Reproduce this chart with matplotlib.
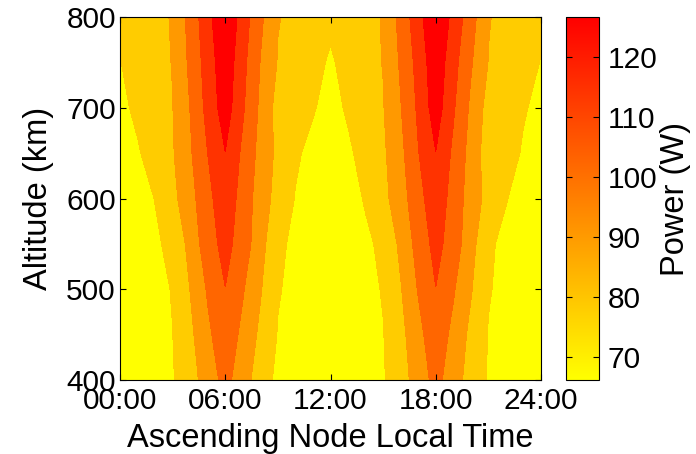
import numpy as np
import matplotlib
matplotlib.use("Agg")
import matplotlib.pyplot as plt
from matplotlib.colors import Normalize
from matplotlib.cm import ScalarMappable

plt.rcParams['font.family'] = ['Liberation Sans', 'DejaVu Sans']

# ascending node local time (h) and altitude (km) grid
hours = [0, 1, 2, 3, 4, 5, 6, 7, 8, 9, 10, 11, 12,
         13, 14, 15, 16, 17, 18, 19, 20, 21, 22, 23, 24]
altitudes = [400, 450, 500, 550, 600, 650, 700, 750, 800]

# power (W), one row per altitude
p400 = [67.0, 70.5, 74.0, 77.5, 85.4, 96.1, 106.4, 95.5, 84.5, 75.5, 72.5, 69.5, 66.2,
        69.9, 73.6, 77.3, 85.2, 95.8, 106.4, 95.9, 85.5, 77.4, 73.9, 70.5, 67.0]
p450 = [68.0, 71.4, 74.8, 78.2, 87.8, 100.1, 110.4, 99.5, 88.0, 77.7, 74.2, 70.7, 67.2,
        70.8, 74.3, 77.9, 86.9, 98.8, 110.4, 99.3, 87.5, 77.8, 74.5, 71.3, 68.0]
p500 = [69.0, 72.3, 75.5, 78.8, 90.7, 103.8, 114.4, 103.6, 91.4, 79.1, 75.5, 72.0, 68.5,
        71.8, 75.2, 79.0, 89.6, 103.3, 114.4, 103.8, 91.4, 79.0, 75.7, 72.3, 69.0]
p550 = [70.5, 73.8, 77.1, 80.4, 94.4, 109.5, 118.5, 109.0, 95.0, 80.1, 76.5, 73.0, 69.5,
        73.1, 76.7, 80.2, 93.1, 107.0, 118.5, 109.0, 95.0, 79.5, 76.5, 73.5, 70.5]
p600 = [72.0, 75.2, 78.5, 87.2, 98.4, 111.2, 122.5, 109.7, 96.8, 85.9, 77.8, 74.4, 71.0,
        74.8, 79.1, 86.9, 97.4, 110.3, 122.5, 110.0, 96.9, 86.5, 78.7, 75.2, 72.0]
p650 = [74.0, 77.3, 82.8, 89.4, 101.1, 114.7, 126.5, 112.2, 98.7, 87.6, 79.7, 75.7, 72.5,
        76.6, 82.1, 88.4, 99.5, 114.1, 126.5, 112.3, 98.2, 84.0, 82.2, 77.3, 74.0]
p700 = [76.0, 80.3, 85.3, 90.2, 102.8, 118.4, 133.0, 116.1, 100.3, 86.0, 84.0, 79.1, 75.0,
        79.6, 84.7, 89.8, 102.0, 116.6, 133.0, 116.1, 100.3, 86.0, 84.0, 79.1, 76.0]
p750 = [78.0, 82.2, 86.5, 90.8, 105.0, 120.2, 135.0, 118.1, 102.2, 89.7, 85.6, 81.5, 77.0,
        81.8, 86.2, 90.8, 104.1, 118.7, 135.0, 119.0, 103.8, 90.1, 85.8, 81.5, 78.0]
p800 = [80.0, 83.7, 87.4, 91.2, 106.8, 122.7, 138.8, 120.8, 105.1, 91.0, 87.5, 84.0, 80.5,
        84.0, 87.5, 91.0, 106.5, 122.1, 138.8, 123.0, 107.7, 91.0, 87.3, 83.7, 80.0]

time_ticks = [0, 6, 12, 18, 24]
time_labels = ["00:00", "06:00", "12:00", "18:00", "24:00"]
alt_ticks = [400, 500, 600, 700, 800]
power_ticks = [70, 80, 90, 100, 110, 120]
band_colors = ["#ffff00", "#ffcc00", "#ff9900", "#ff6600", "#ff3300", "#ff0000"]

Z = np.array([p400, p450, p500, p550, p600, p650, p700, p750, p800])
levels = np.linspace(Z.min(), Z.max(), len(band_colors) + 1)

fig = plt.figure(figsize=(6.96, 4.54), dpi=100)
ax = fig.add_axes([120 / 696, 74 / 454, 421 / 696, 363 / 454])
cax = fig.add_axes([566 / 696, 74 / 454, 33 / 696, 363 / 454])

ax.contourf(hours, altitudes, Z, levels=levels, colors=band_colors)
ax.set_xlim(0, 24)
ax.set_ylim(400, 800)
ax.set_xticks(time_ticks)
ax.set_xticklabels(time_labels)
ax.set_yticks(alt_ticks)
ax.tick_params(direction="in", top=True, right=True, length=4, width=0.8,
               labelsize=21.5, pad=3)
ax.tick_params(axis="x", pad=5)
ax.set_xlabel("Ascending Node Local Time", fontsize=23.5, labelpad=6)
ax.set_ylabel("Altitude (km)", fontsize=23.5, labelpad=9)
for s in ax.spines.values():
    s.set_linewidth(0.8)

sm = ScalarMappable(norm=Normalize(levels[0], levels[-2]), cmap="autumn_r")
cb = fig.colorbar(sm, cax=cax)
cb.set_ticks(power_ticks)
cb.ax.tick_params(direction="in", left=True, right=True, length=4, width=0.8,
                  labelsize=21.5, pad=6)
cb.outline.set_linewidth(0.8)
cb.set_label("Power (W)", fontsize=23.5, labelpad=2)

fig.savefig("out.png", dpi=100)
